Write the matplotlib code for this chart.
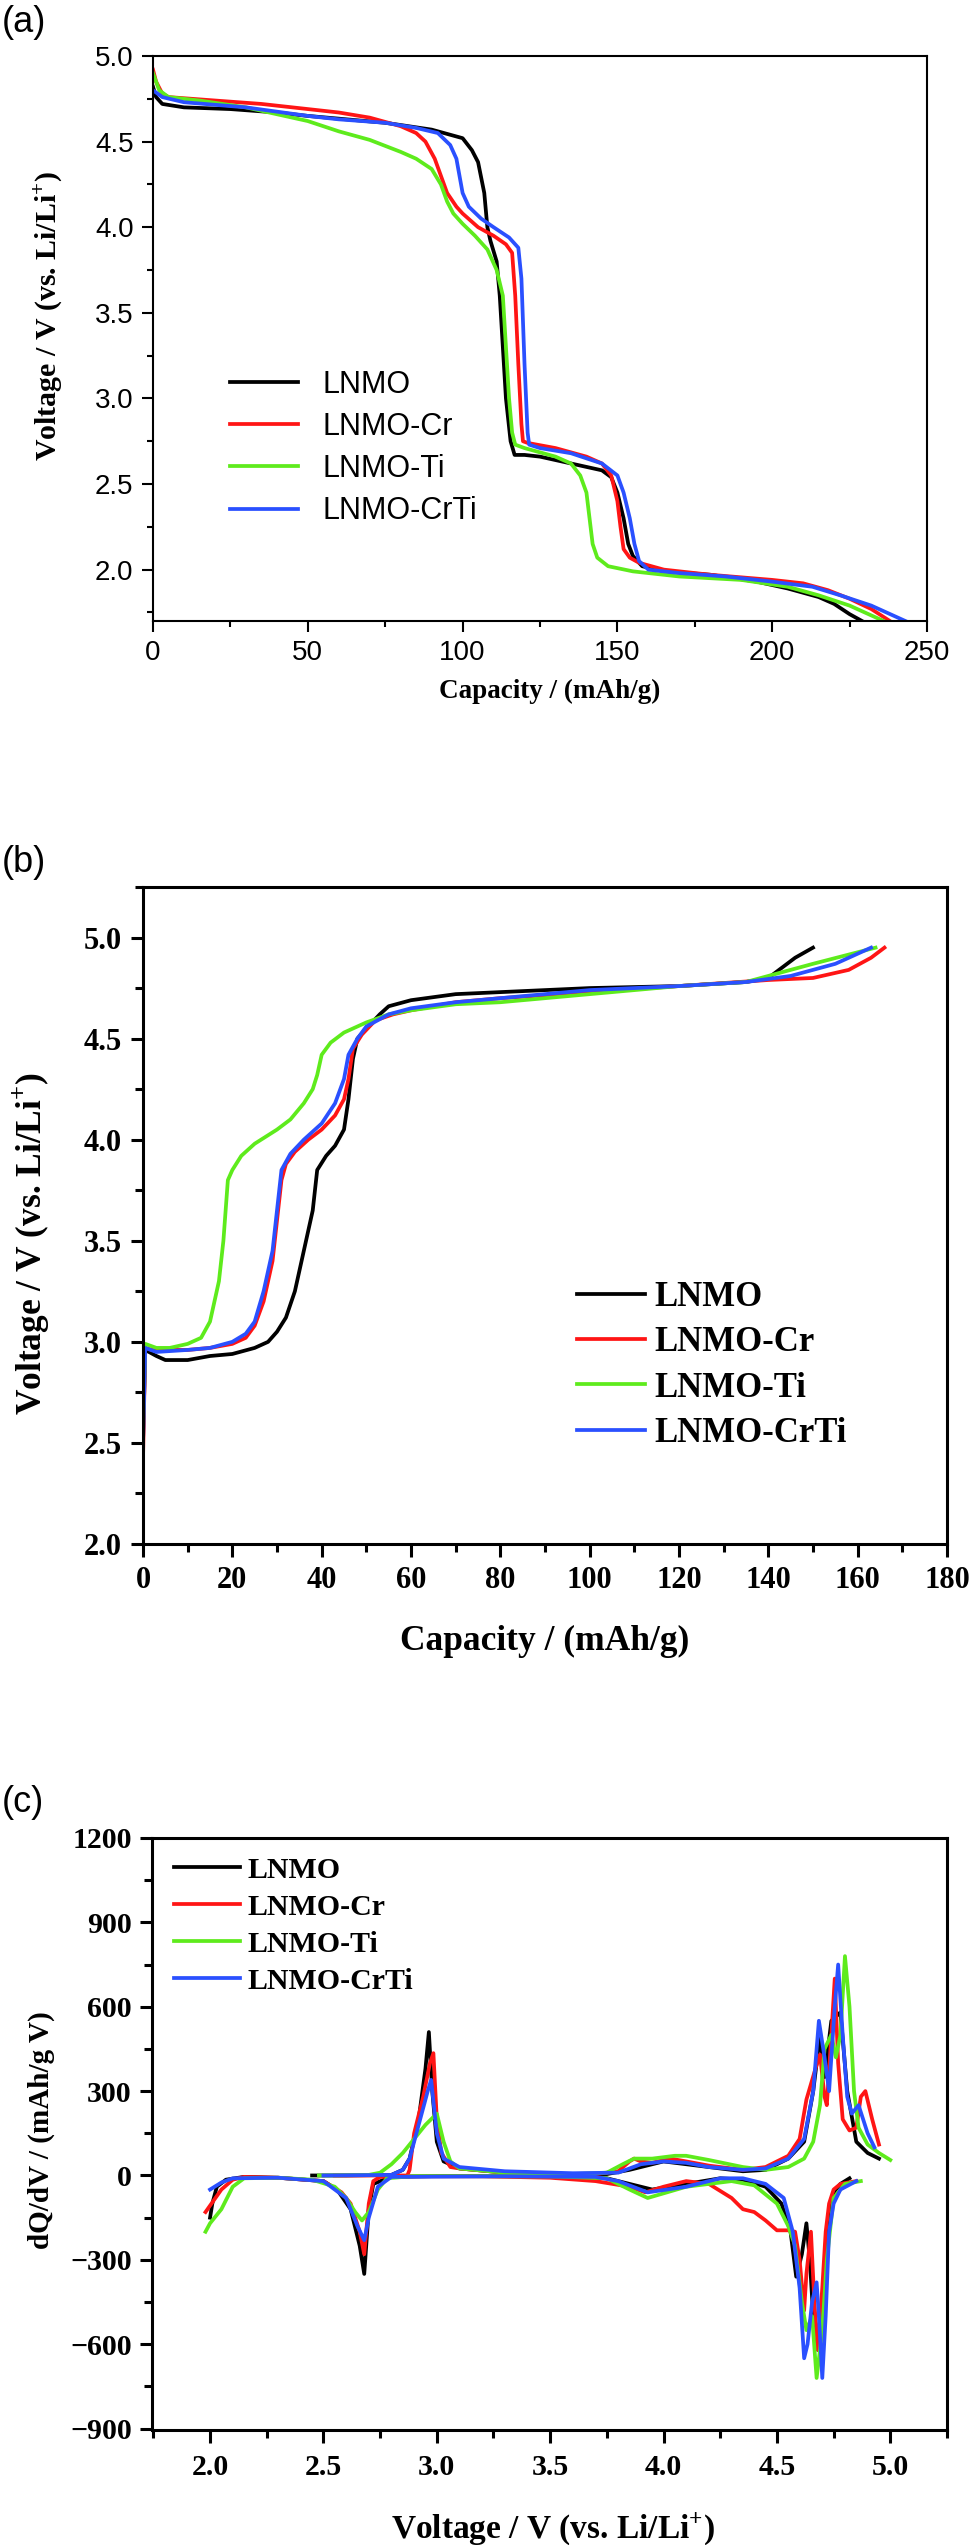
import matplotlib
matplotlib.use("Agg")
import matplotlib.pyplot as plt
from matplotlib.ticker import MultipleLocator

plt.rcParams['mathtext.fontset'] = 'custom'
plt.rcParams['mathtext.rm'] = 'Liberation Serif'
plt.rcParams['mathtext.bf'] = 'Liberation Serif:bold'

SANS = 'Liberation Sans'
SERIF = 'Liberation Serif'

names = ['LNMO', 'LNMO-Cr', 'LNMO-Ti', 'LNMO-CrTi']
colors = ['#000000', '#ff1515', '#5eeb1c', '#2a50ff']

# (a) discharge curves: capacity (mAh/g) vs voltage (V)
a_lnmo_cap = [0, 1, 3, 10, 25, 40, 50, 75, 90, 100, 103, 105, 107, 108, 109, 111, 112, 113, 114, 115.5, 116.8,
              120, 125, 130, 135, 145, 148, 150, 152, 153.5, 155, 158, 165, 180, 195, 205, 215, 220, 225, 229]
a_lnmo_v = [4.82, 4.76, 4.72, 4.70, 4.69, 4.67, 4.65, 4.61, 4.57, 4.52, 4.45, 4.38, 4.2, 4.0, 3.92, 3.80, 3.6, 3.3, 3.0, 2.75, 2.67,
            2.67, 2.66, 2.64, 2.62, 2.58, 2.54, 2.45, 2.3, 2.15, 2.08, 2.02, 1.99, 1.97, 1.93, 1.89, 1.84, 1.80, 1.74, 1.70]

a_cr_cap = [0, 1, 3, 5, 20, 35, 50, 60, 70, 80, 85, 88, 91, 93, 95, 98, 100, 105, 110, 114, 116, 117, 118, 119, 119.5,
            121, 130, 140, 145, 148, 150, 151, 152, 154, 157, 165, 180, 200, 210, 218, 225, 232, 238]
a_cr_v = [4.92, 4.85, 4.78, 4.76, 4.74, 4.72, 4.69, 4.67, 4.64, 4.59, 4.55, 4.50, 4.40, 4.30, 4.20, 4.12, 4.08, 4.00, 3.95, 3.90, 3.85, 3.6, 3.2, 2.85, 2.75,
          2.74, 2.71, 2.66, 2.62, 2.55, 2.40, 2.25, 2.12, 2.07, 2.04, 2.00, 1.97, 1.94, 1.92, 1.88, 1.83, 1.77, 1.70]

a_ti_cap = [0, 2, 5, 15, 30, 40, 50, 60, 70, 80, 85, 90, 93, 95, 97, 100, 104, 108, 111, 113, 114, 115, 116, 117,
            120, 130, 135, 138, 140, 141, 142, 143.5, 147, 155, 170, 190, 205, 215, 225, 236]
a_ti_v = [4.90, 4.80, 4.76, 4.74, 4.70, 4.66, 4.62, 4.56, 4.51, 4.44, 4.40, 4.34, 4.25, 4.15, 4.08, 4.02, 3.95, 3.87, 3.75, 3.6, 3.3, 3.0, 2.8, 2.73,
          2.71, 2.66, 2.62, 2.55, 2.45, 2.30, 2.15, 2.07, 2.02, 1.99, 1.96, 1.94, 1.90, 1.85, 1.79, 1.70]

a_crti_cap = [0, 3, 10, 30, 50, 60, 75, 85, 92, 96, 98, 99, 100, 102, 106, 110, 115, 118, 119, 120, 121, 121.5,
              125, 135, 145, 150, 152, 154, 155.5, 157, 160, 170, 185, 200, 213, 222, 232, 243]
a_crti_v = [4.80, 4.76, 4.73, 4.70, 4.65, 4.63, 4.61, 4.58, 4.55, 4.48, 4.40, 4.30, 4.20, 4.12, 4.05, 4.00, 3.94, 3.88, 3.7, 3.2, 2.8, 2.73,
            2.71, 2.68, 2.62, 2.55, 2.45, 2.30, 2.15, 2.05, 2.00, 1.98, 1.96, 1.93, 1.90, 1.85, 1.79, 1.70]

# (b) charge curves
b_lnmo_cap = [0, 0.5, 3, 5, 10, 15, 20, 25, 28, 30, 32, 34, 36, 38, 39, 41, 43, 45, 46, 47, 48, 50, 53, 55, 60, 70, 90,
              100, 120, 135, 140, 143, 146, 150]
b_lnmo_v = [2.5, 2.96, 2.93, 2.91, 2.91, 2.93, 2.94, 2.97, 3.0, 3.05, 3.12, 3.25, 3.45, 3.65, 3.85, 3.92, 3.97, 4.05, 4.2, 4.4, 4.5, 4.55, 4.62, 4.66, 4.69, 4.72, 4.74,
            4.75, 4.76, 4.78, 4.80, 4.85, 4.90, 4.95]

b_cr_cap = [0, 0.5, 2, 5, 10, 15, 20, 23, 25, 27, 29, 30, 31, 32, 34, 37, 40, 43, 45, 46, 47, 49, 52, 56, 60, 70, 80,
            100, 120, 140, 150, 158, 163, 166]
b_cr_v = [2.42, 2.97, 2.96, 2.96, 2.96, 2.97, 2.99, 3.02, 3.08, 3.2, 3.4, 3.6, 3.8, 3.88, 3.94, 4.0, 4.05, 4.12, 4.2, 4.3, 4.45, 4.52, 4.59, 4.62, 4.64, 4.68, 4.70,
          4.73, 4.76, 4.79, 4.80, 4.84, 4.90, 4.95]

b_ti_cap = [0, 0.5, 3, 6, 10, 13, 15, 17, 18, 19, 20, 22, 25, 30, 33, 36, 38, 39, 40, 42, 45, 50, 55, 60, 70, 80,
            100, 120, 135, 140, 150, 164]
b_ti_v = [2.55, 2.99, 2.97, 2.97, 2.99, 3.02, 3.1, 3.3, 3.5, 3.8, 3.85, 3.92, 3.98, 4.05, 4.10, 4.18, 4.25, 4.32, 4.42, 4.48, 4.53, 4.58, 4.62, 4.64, 4.67, 4.68,
          4.72, 4.76, 4.78, 4.81, 4.87, 4.95]

b_crti_cap = [0, 0.5, 3, 10, 15, 20, 23, 25, 27, 29, 30, 31, 33, 36, 40, 43, 45, 46, 48, 50, 55, 60, 70, 80,
              100, 120, 135, 145, 155, 163]
b_crti_v = [2.5, 2.97, 2.95, 2.96, 2.97, 3.0, 3.04, 3.1, 3.25, 3.45, 3.65, 3.85, 3.93, 4.0, 4.08, 4.18, 4.3, 4.42, 4.5, 4.56, 4.62, 4.65, 4.68, 4.70,
            4.74, 4.76, 4.78, 4.81, 4.87, 4.95]

# (c) dQ/dV, discharge branch (negative) and charge branch (positive)
c_lnmo_dis_v = [4.82, 4.78, 4.75, 4.72, 4.70, 4.68, 4.66, 4.645, 4.63, 4.61, 4.585, 4.56, 4.52, 4.45, 4.35, 4.25, 4.1, 3.95,
                3.85, 3.75, 3.5, 3.0, 2.8, 2.72, 2.70, 2.68, 2.66, 2.62, 2.56, 2.5, 2.3, 2.15, 2.07, 2.03, 2.01, 2.0]
c_lnmo_dis_q = [-10, -30, -60, -200, -450, -620, -500, -300, -170, -280, -360, -200, -100, -40, -15, -10, -30, -50,
                -30, -10, -3, -2, -5, -30, -120, -350, -250, -120, -50, -20, -8, -5, -15, -40, -100, -150]
c_lnmo_ch_v = [2.45, 2.6, 2.8, 2.85, 2.88, 2.92, 2.95, 2.965, 2.98, 3.0, 3.03, 3.1, 3.3, 3.6, 3.75, 3.85, 3.95, 4.0, 4.05,
               4.2, 4.35, 4.45, 4.55, 4.62, 4.66, 4.69, 4.71, 4.74, 4.78, 4.81, 4.85, 4.9, 4.95]
c_lnmo_ch_q = [0, 0, 2, 20, 60, 200, 380, 510, 300, 120, 50, 25, 10, 5, 5, 20, 40, 50, 45,
               30, 15, 20, 60, 120, 300, 500, 350, 550, 580, 300, 120, 80, 60]

c_cr_dis_v = [4.85, 4.78, 4.75, 4.73, 4.715, 4.70, 4.68, 4.665, 4.65, 4.63, 4.62, 4.60, 4.58, 4.55, 4.5, 4.45, 4.4, 4.35,
              4.3, 4.2, 4.1, 4.0, 3.92, 3.85, 3.7, 3.5, 3.2, 2.9, 2.75, 2.72, 2.7, 2.68, 2.66, 2.62, 2.58, 2.5, 2.3,
              2.15, 2.1, 2.05, 1.98]
c_cr_dis_q = [-20, -30, -50, -100, -200, -400, -620, -450, -200, -350, -480, -300, -200, -195, -195, -160, -130, -120,
              -80, -30, -20, -40, -60, -40, -20, -8, -3, -3, -5, -20, -100, -280, -200, -100, -60, -20, -8,
              -5, -15, -50, -130]
c_cr_ch_v = [2.55, 2.87, 2.88, 2.9, 2.94, 2.97, 2.985, 3.0, 3.02, 3.06, 3.1, 3.3, 3.5, 3.7, 3.8, 3.85, 3.87, 3.9, 3.95,
             4.0, 4.03, 4.1, 4.2, 4.35, 4.45, 4.55, 4.6, 4.63, 4.67, 4.69, 4.71, 4.72, 4.74, 4.755, 4.77, 4.79,
             4.82, 4.85, 4.87, 4.89, 4.92, 4.95]
c_cr_ch_q = [0, 0, 20, 150, 280, 400, 435, 200, 80, 30, 25, 10, 5, 5, 15, 50, 60, 50, 45,
             55, 60, 50, 35, 20, 30, 70, 130, 270, 380, 430, 280, 250, 500, 700, 400, 200,
             160, 170, 280, 300, 200, 110]

c_ti_dis_v = [4.87, 4.8, 4.75, 4.72, 4.70, 4.675, 4.655, 4.63, 4.61, 4.58, 4.55, 4.5, 4.4, 4.3, 4.1, 3.93, 3.85, 3.75,
              3.5, 2.9, 2.78, 2.74, 2.7, 2.67, 2.64, 2.6, 2.55, 2.45, 2.3, 2.15, 2.1, 2.05, 2.0, 1.98]
c_ti_dis_q = [-20, -30, -80, -300, -550, -720, -500, -550, -450, -250, -180, -100, -35, -20, -40, -80, -50, -10,
              -3, -2, -10, -50, -130, -160, -130, -80, -40, -15, -8, -10, -40, -120, -170, -200]
c_ti_ch_v = [2.48, 2.7, 2.75, 2.8, 2.85, 2.9, 2.95, 3.0, 3.03, 3.06, 3.1, 3.3, 3.6, 3.75, 3.82, 3.87, 3.95, 4.05, 4.1,
             4.2, 4.35, 4.45, 4.55, 4.62, 4.66, 4.69, 4.71, 4.74, 4.76, 4.78, 4.80, 4.82, 4.84, 4.86, 4.9, 4.95, 5.0]
c_ti_ch_q = [0, 2, 10, 40, 80, 130, 180, 220, 120, 50, 25, 10, 5, 10, 40, 60, 60, 70, 70,
             55, 30, 20, 30, 60, 120, 250, 450, 500, 420, 500, 780, 600, 300, 170, 110, 80, 55]

c_crti_dis_v = [4.85, 4.78, 4.75, 4.73, 4.715, 4.70, 4.685, 4.675, 4.655, 4.635, 4.62, 4.6, 4.57, 4.53, 4.45, 4.35, 4.25,
                4.1, 3.93, 3.8, 3.7, 3.3, 2.8, 2.74, 2.7, 2.68, 2.65, 2.6, 2.5, 2.3, 2.1, 2.05, 2.0]
c_crti_dis_q = [-20, -50, -100, -200, -500, -720, -500, -380, -450, -600, -650, -400, -200, -80, -30, -10, -10,
                -40, -60, -20, -5, -3, -5, -40, -150, -230, -180, -80, -20, -8, -10, -25, -50]
c_crti_ch_v = [2.5, 2.8, 2.85, 2.88, 2.92, 2.96, 2.975, 3.0, 3.03, 3.1, 3.3, 3.6, 3.8, 3.9, 4.0, 4.1, 4.2, 4.35, 4.45,
               4.55, 4.62, 4.66, 4.685, 4.71, 4.73, 4.755, 4.77, 4.79, 4.81, 4.83, 4.86, 4.9, 4.93]
c_crti_ch_q = [0, 2, 20, 60, 180, 300, 340, 150, 60, 30, 15, 8, 10, 40, 50, 45, 30, 20, 25,
               60, 130, 300, 550, 420, 300, 600, 750, 500, 280, 220, 250, 150, 100]

W, H = 973, 2545
fig = plt.figure(figsize=(W / 100, H / 100), dpi=100)


def box(l, t, r, b):
    return [l / W, 1 - b / H, (r - l) / W, (b - t) / H]


def style(ax, lw, maj, mnr, xpad, ypad):
    for s in ax.spines.values():
        s.set_linewidth(lw)
    ax.tick_params(which='major', direction='out', length=maj, width=lw, top=False, right=False)
    ax.tick_params(which='minor', direction='out', length=mnr, width=lw, top=False, right=False)
    ax.tick_params(axis='x', which='major', pad=xpad)
    ax.tick_params(axis='y', which='major', pad=ypad)


LW = 2.7

# ---------- (a) ----------
ax = fig.add_axes(box(153, 56, 927, 621))
for cap, v, c, n in zip([a_lnmo_cap, a_cr_cap, a_ti_cap, a_crti_cap],
                        [a_lnmo_v, a_cr_v, a_ti_v, a_crti_v], colors, names):
    ax.plot(cap, v, color=c, lw=LW, label=n)
ax.set_xlim(0, 250)
ax.set_ylim(1.70, 5.0)
ax.xaxis.set_major_locator(MultipleLocator(50))
ax.xaxis.set_minor_locator(MultipleLocator(25))
ax.yaxis.set_major_locator(MultipleLocator(0.5))
ax.yaxis.set_minor_locator(MultipleLocator(0.25))
style(ax, 1.5, 8, 4.5, 6, 6)
for lab in ax.get_xticklabels() + ax.get_yticklabels():
    lab.set_fontfamily(SANS)
    lab.set_fontsize(20)
ax.set_xlabel('Capacity / (mAh/g)', family=SERIF, weight='bold', fontsize=19.5)
ax.set_ylabel(r'Voltage / V (vs. Li/Li$^{\mathbf{+}}$)', family=SERIF, weight='bold', fontsize=21.5)
ax.xaxis.set_label_coords(0.512, -0.103)
ax.yaxis.set_label_coords(-0.114, 0.54)
ax.legend(loc='upper left', bbox_to_anchor=(0.1, 0.445), frameon=False, borderpad=0, borderaxespad=0,
          handlelength=2.2, handletextpad=0.8, labelspacing=0.4, prop={'family': SANS, 'size': 22})
fig.text(2 / W, 1 - 23 / H, '(a)', family=SANS, fontsize=26, va='center', ha='left')

# ---------- (b) ----------
ax = fig.add_axes(box(143, 887, 947, 1544))
for cap, v, c, n in zip([b_lnmo_cap, b_cr_cap, b_ti_cap, b_crti_cap],
                        [b_lnmo_v, b_cr_v, b_ti_v, b_crti_v], colors, names):
    ax.plot(cap, v, color=c, lw=LW, label=n)
ax.set_xlim(0, 180)
ax.set_ylim(2.0, 5.25)
ax.xaxis.set_major_locator(MultipleLocator(20))
ax.xaxis.set_minor_locator(MultipleLocator(10))
ax.yaxis.set_major_locator(MultipleLocator(0.5))
ax.yaxis.set_minor_locator(MultipleLocator(0.25))
style(ax, 2.2, 9, 5.5, 6.5, 6.5)
for lab in ax.get_xticklabels() + ax.get_yticklabels():
    lab.set_fontfamily(SERIF)
    lab.set_fontweight('bold')
    lab.set_fontsize(22)
ax.set_xlabel('Capacity / (mAh/g)', family=SERIF, weight='bold', fontsize=25.5)
ax.set_ylabel(r'Voltage / V (vs. Li/Li$^{\mathbf{+}}$)', family=SERIF, weight='bold', fontsize=25.5)
ax.xaxis.set_label_coords(0.5, -0.123)
ax.yaxis.set_label_coords(-0.113, 0.458)
ax.legend(loc='upper left', bbox_to_anchor=(0.54, 0.40), frameon=False, borderpad=0, borderaxespad=0,
          handlelength=1.96, handletextpad=0.27, labelspacing=0.35,
          prop={'family': SERIF, 'weight': 'bold', 'size': 25})
fig.text(2 / W, 1 - 863 / H, '(b)', family=SANS, fontsize=26, va='center', ha='left')

# ---------- (c) ----------
ax = fig.add_axes(box(152, 1838, 947, 2430))
for dv, dq, cv, cq, c, n in zip([c_lnmo_dis_v, c_cr_dis_v, c_ti_dis_v, c_crti_dis_v],
                                [c_lnmo_dis_q, c_cr_dis_q, c_ti_dis_q, c_crti_dis_q],
                                [c_lnmo_ch_v, c_cr_ch_v, c_ti_ch_v, c_crti_ch_v],
                                [c_lnmo_ch_q, c_cr_ch_q, c_ti_ch_q, c_crti_ch_q], colors, names):
    ax.plot(dv, dq, color=c, lw=LW, label=n)
    ax.plot(cv, cq, color=c, lw=LW)
ax.set_xlim(1.744, 5.25)
ax.set_ylim(-905, 1200)
ax.xaxis.set_major_locator(MultipleLocator(0.5))
ax.xaxis.set_minor_locator(MultipleLocator(0.25))
ax.yaxis.set_major_locator(MultipleLocator(300))
ax.yaxis.set_minor_locator(MultipleLocator(150))
style(ax, 2.2, 9, 5.5, 8, 5.5)
for lab in ax.get_xticklabels() + ax.get_yticklabels():
    lab.set_fontfamily(SERIF)
    lab.set_fontweight('bold')
    lab.set_fontsize(21.5)
ax.set_xlabel(r'Voltage / V (vs. Li/Li$^{\mathbf{+}}$)', family=SERIF, weight='bold', fontsize=24)
ax.set_ylabel('dQ/dV / (mAh/g V)', family=SERIF, weight='bold', fontsize=21)
ax.xaxis.set_label_coords(0.504, -0.137)
ax.yaxis.set_label_coords(-0.122, 0.506)
ax.legend(loc='upper left', bbox_to_anchor=(0.028, 0.968), frameon=False, borderpad=0, borderaxespad=0,
          handlelength=2.2, handletextpad=0.25, labelspacing=0.33,
          prop={'family': SERIF, 'weight': 'bold', 'size': 21.5})
fig.text(2 / W, 1 - 1803 / H, '(c)', family=SANS, fontsize=26, va='center', ha='left')

fig.savefig('out.png', dpi=100)
